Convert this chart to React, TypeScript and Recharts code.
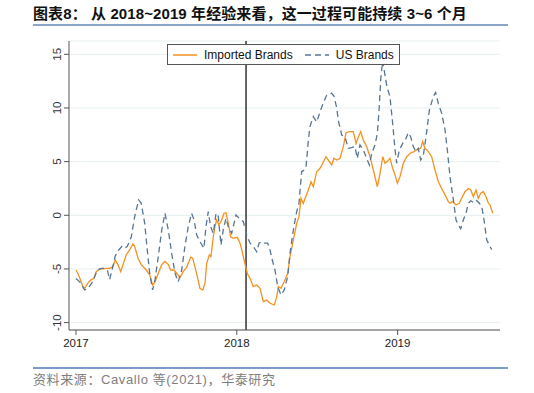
import React from 'react';
import { LineChart, Line, XAxis, YAxis, CartesianGrid, ReferenceLine } from 'recharts';

// Months since January 2017
const importedMonths = [0.0, 0.2, 0.52, 0.65, 0.9, 1.14, 1.34, 1.51, 1.77, 2.01, 2.26, 2.51, 2.76, 2.93, 3.13, 3.34, 3.51, 3.75, 4.0, 4.25, 4.38, 4.63, 4.87, 5.25, 5.5, 5.72, 5.9, 6.14, 6.4, 6.64, 6.89, 7.07, 7.31, 7.51, 7.76, 8.0, 8.26, 8.56, 8.71, 8.88, 9.05, 9.25, 9.46, 9.63, 9.75, 9.95, 10.07, 10.25, 10.37, 10.5, 10.67, 10.87, 11.04, 11.19, 11.37, 11.54, 11.74, 12.04, 12.24, 12.37, 12.61, 12.78, 12.99, 13.23, 13.49, 13.73, 13.98, 14.23, 14.48, 14.8, 14.98, 15.1, 15.3, 15.6, 15.8, 15.97, 16.22, 16.47, 16.64, 16.79, 16.96, 17.14, 17.34, 17.54, 17.71, 17.96, 18.21, 18.41, 18.66, 18.83, 19.08, 19.25, 19.46, 19.7, 19.95, 20.15, 20.4, 20.69, 20.9, 21.07, 21.25, 21.44, 21.69, 21.94, 22.19, 22.49, 22.69, 22.89, 23.06, 23.23, 23.43, 23.63, 23.81, 23.98, 24.18, 24.43, 24.68, 24.93, 25.22, 25.43, 25.72, 25.87, 26.04, 26.29, 26.54, 26.79, 27.04, 27.29, 27.54, 27.78, 27.91, 28.11, 28.36, 28.6, 28.78, 29.03, 29.28, 29.46, 29.65, 29.85, 30.02, 30.2, 30.4, 30.6, 30.77, 30.9, 31.1];
const importedValues = [-5.1, -5.56, -6.65, -6.8, -6.3, -6.0, -5.9, -5.25, -5.0, -5.0, -4.95, -4.95, -4.8, -4.17, -4.6, -5.25, -4.6, -3.7, -3.23, -2.67, -2.9, -4.0, -4.6, -5.1, -5.56, -6.5, -6.2, -5.4, -4.6, -4.3, -4.6, -5.1, -5.1, -5.4, -5.8, -5.25, -4.85, -3.9, -4.0, -4.8, -5.7, -6.8, -6.96, -6.3, -4.5, -3.7, -3.85, -2.0, -1.06, -0.44, -0.9, -0.44, 0.19, 0.24, -0.75, -2.0, -2.15, -2.05, -2.6, -3.23, -4.5, -5.4, -5.9, -6.65, -6.5, -6.8, -8.05, -7.9, -8.2, -8.36, -7.6, -6.65, -6.8, -6.0, -5.4, -3.86, -2.3, -0.75, -0.13, 1.58, 1.1, 1.73, 2.36, 3.13, 2.66, 4.06, 4.38, 4.85, 5.46, 5.15, 4.69, 5.31, 5.15, 5.3, 6.4, 7.7, 7.8, 7.8, 6.7, 7.3, 7.8, 7.0, 6.4, 5.46, 4.22, 2.66, 3.9, 5.46, 4.85, 5.0, 5.3, 4.38, 3.76, 2.98, 3.6, 4.85, 5.46, 5.78, 5.93, 6.09, 6.24, 6.86, 6.24, 5.93, 5.46, 4.22, 3.13, 2.5, 1.9, 1.27, 1.12, 1.27, 0.96, 1.12, 1.58, 2.2, 2.5, 2.36, 1.73, 2.36, 1.58, 2.05, 2.2, 1.73, 1.12, 0.96, 0.19];

const usMonths = [0.0, 0.28, 0.65, 0.9, 1.19, 1.4, 1.59, 1.89, 2.14, 2.34, 2.51, 2.69, 2.93, 3.19, 3.43, 3.63, 3.83, 4.13, 4.38, 4.68, 4.87, 5.13, 5.32, 5.5, 5.72, 5.9, 6.14, 6.4, 6.64, 6.89, 7.14, 7.39, 7.63, 7.89, 8.13, 8.38, 8.63, 8.81, 9.01, 9.25, 9.55, 9.7, 9.87, 10.05, 10.25, 10.45, 10.62, 10.82, 10.99, 11.19, 11.37, 11.62, 11.94, 12.19, 12.49, 12.74, 12.99, 13.23, 13.49, 13.66, 13.86, 14.1, 14.31, 14.48, 14.65, 14.85, 15.05, 15.3, 15.54, 15.8, 15.97, 16.22, 16.47, 16.64, 16.84, 17.04, 17.16, 17.34, 17.46, 17.71, 17.96, 18.34, 18.71, 19.08, 19.25, 19.44, 19.6, 19.83, 20.07, 20.32, 20.57, 20.82, 20.99, 21.19, 21.44, 21.69, 21.89, 22.07, 22.31, 22.49, 22.6, 22.75, 22.88, 23.0, 23.2, 23.43, 23.63, 23.81, 23.93, 24.13, 24.38, 24.63, 24.8, 24.98, 25.17, 25.37, 25.54, 25.72, 25.92, 26.12, 26.37, 26.66, 26.84, 27.04, 27.29, 27.54, 27.71, 27.91, 28.16, 28.36, 28.53, 28.71, 28.9, 29.1, 29.28, 29.46, 29.65, 29.85, 30.1, 30.28, 30.45, 30.65, 30.84, 31.02];
const usValues = [-5.9, -6.2, -6.96, -6.8, -6.3, -5.7, -5.1, -4.95, -4.95, -5.1, -6.0, -5.1, -3.8, -3.23, -2.9, -3.08, -2.9, -2.0, -0.13, 1.43, 1.12, -0.75, -3.23, -5.4, -6.96, -6.0, -3.86, -1.37, 0.19, -1.37, -3.54, -5.4, -6.2, -5.1, -2.9, -1.06, 0.19, -0.44, -1.84, -2.46, -3.08, -1.06, 0.34, -1.06, -1.68, 0.19, -0.1, -2.77, -1.37, -0.28, -1.06, -1.68, 0.03, -0.28, -0.6, -1.84, -2.6, -2.9, -3.4, -2.6, -2.46, -2.6, -2.6, -3.23, -4.17, -5.1, -6.65, -7.43, -6.96, -5.7, -3.54, -1.37, 0.34, 1.12, 4.06, 4.22, 4.4, 7.0, 8.26, 9.2, 8.7, 10.1, 11.2, 11.37, 11.1, 10.1, 8.7, 7.48, 7.3, 6.24, 6.3, 6.4, 5.3, 6.55, 6.09, 5.3, 4.69, 5.78, 6.55, 7.64, 9.5, 12.8, 14.4, 13.5, 12.0, 11.05, 8.57, 6.09, 4.85, 6.09, 6.7, 7.17, 7.7, 7.3, 6.4, 5.93, 6.24, 5.15, 5.6, 7.3, 9.8, 11.05, 11.45, 10.4, 9.5, 7.95, 6.09, 3.6, 1.43, -0.44, -0.9, -1.25, -0.44, 0.19, 1.12, 1.35, 1.2, 1.43, 1.12, 0.8, -0.44, -2.3, -2.77, -3.2];

const xTicks = [0, 12, 24];
const xTickLabels = ['2017', '2018', '2019'];
const yTicks = [-10, -5, 0, 5, 10, 15];
const tariffMonth = 12.69;

const seriesNames = ['Imported Brands', 'US Brands'];
const orange = '#f5911e';
const blue = '#587592';

const importedData = importedMonths.map((m, i) => ({ m, v: importedValues[i] }));
const usData = usMonths.map((m, i) => ({ m, v: usValues[i] }));

const W = 534;
const H = 393;

const YTick = (props: any) => {
  const { x, y, payload } = props;
  return (
    <g transform={`translate(${x - 1},${y}) rotate(-90)`}>
      <text x={0} y={0} textAnchor="middle" fill="#333" fontSize={11.5}>
        {payload.value}
      </text>
    </g>
  );
};

const XTick = (props: any) => {
  const { x, y, payload } = props;
  const idx = xTicks.indexOf(payload.value);
  return (
    <text x={x} y={y + 10} textAnchor="middle" fill="#222" fontSize={11.5}>
      {idx >= 0 ? xTickLabels[idx] : payload.value}
    </text>
  );
};

const LegendBox = () => (
  <div
    style={{
      position: 'absolute',
      left: 167,
      top: 44,
      width: 233,
      height: 21,
      boxSizing: 'border-box',
      border: '1px solid #555',
      background: '#fff',
      display: 'flex',
      alignItems: 'center',
      fontSize: 12,
      color: '#111',
    }}
  >
    <svg width={26} height={10} style={{ marginLeft: 5, marginRight: 5 }}>
      <line x1={0} y1={5} x2={24} y2={5} stroke={orange} strokeWidth={1.5} />
    </svg>
    <span>{seriesNames[0]}</span>
    <svg width={26} height={10} style={{ marginLeft: 12, marginRight: 5 }}>
      <line x1={0} y1={5} x2={24} y2={5} stroke={blue} strokeWidth={1.5} strokeDasharray="6 4" />
    </svg>
    <span>{seriesNames[1]}</span>
  </div>
);

export default function App() {
  return (
    <div
      style={{
        position: 'absolute',
        left: 0,
        top: 0,
        width: W,
        height: H,
        background: '#fff',
        overflow: 'hidden',
        fontFamily: '"Liberation Sans", "Noto Sans CJK SC", sans-serif',
      }}
    >
      <div
        style={{
          position: 'absolute',
          left: 33,
          top: 4,
          fontSize: 15,
          lineHeight: '20px',
          fontWeight: 'bold',
          color: '#111',
          whiteSpace: 'nowrap',
          letterSpacing: 0.1,
        }}
      >
        图表8： 从 2018~2019 年经验来看，这一过程可能持续 3~6 个月
      </div>
      <div style={{ position: 'absolute', left: 33, top: 24, width: 475, height: 1.5, background: '#8ba4c8' }} />

      <LineChart width={W} height={H} margin={{ top: 41, right: 34, bottom: 33, left: 39 }}>
        <CartesianGrid horizontal vertical={false} stroke="#e6efef" />
        <XAxis
          type="number"
          dataKey="m"
          domain={[-0.52, 31.64]}
          ticks={xTicks}
          allowDataOverflow
          height={30}
          tickSize={5}
          stroke="#555"
          tick={<XTick />}
        />
        <YAxis
          type="number"
          dataKey="v"
          domain={[-10.69, 16.24]}
          ticks={yTicks}
          allowDataOverflow
          width={30}
          tickSize={5}
          stroke="#555"
          tick={<YTick />}
        />
        <ReferenceLine x={tariffMonth} stroke="#000" strokeWidth={1.2} />
        <Line
          data={importedData}
          dataKey="v"
          type="linear"
          stroke={orange}
          strokeWidth={1.3}
          dot={false}
          isAnimationActive={false}
        />
        <Line
          data={usData}
          dataKey="v"
          type="linear"
          stroke={blue}
          strokeWidth={1.3}
          strokeDasharray="6 4"
          dot={false}
          isAnimationActive={false}
        />
      </LineChart>

      <LegendBox />

      <div style={{ position: 'absolute', left: 33, top: 367, width: 475, height: 1.5, background: '#7b9cc8' }} />
      <div
        style={{
          position: 'absolute',
          left: 33,
          top: 371,
          fontSize: 13,
          lineHeight: '18px',
          color: '#808080',
          whiteSpace: 'nowrap',
          letterSpacing: 0.6,
        }}
      >
        资料来源：Cavallo 等(2021)，华泰研究
      </div>
    </div>
  );
}
